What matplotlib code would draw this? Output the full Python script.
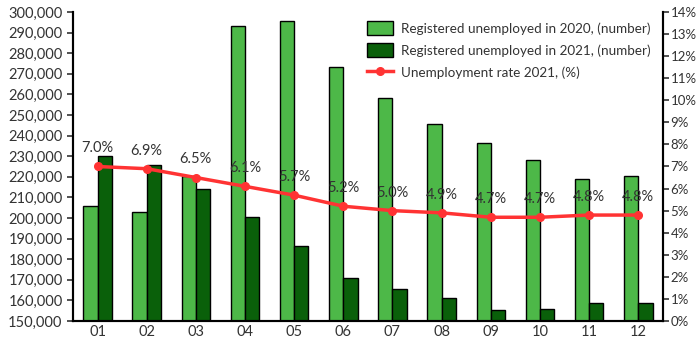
import matplotlib.pyplot as plt
import numpy as np
from matplotlib.ticker import FuncFormatter

months = ["01", "02", "03", "04", "05", "06", "07", "08", "09", "10", "11", "12"]
unemployed_2020 = [205800, 202900, 220400, 293200, 295600, 273300,
                   258300, 245600, 236400, 228200, 219100, 220500]
unemployed_2021 = [230100, 225700, 214100, 200600, 186600, 171000,
                   165700, 161200, 155200, 155700, 158900, 158900]
rate_2021 = [7.0, 6.9, 6.5, 6.1, 5.7, 5.2, 5.0, 4.9, 4.7, 4.7, 4.8, 4.8]

plt.rcParams['font.family'] = ['Lato', 'DejaVu Sans']
text_color = '#333333'

fig = plt.figure(figsize=(6.97, 3.38), dpi=100)
ax = fig.add_axes([0.1047, 0.0503, 0.8463, 0.9142])
ax2 = ax.twinx()

x = np.arange(len(months))
w = 0.29
b1 = ax.bar(x - w / 2, unemployed_2020, w, color='#4db848', edgecolor='black',
            linewidth=1, label='Registered unemployed in 2020, (number)')
b2 = ax.bar(x + w / 2, unemployed_2021, w, color='#0a600a', edgecolor='black',
            linewidth=1, label='Registered unemployed in 2021, (number)')

ax.set_ylim(150000, 300000)
ax.set_yticks(range(150000, 300001, 10000))
ax.yaxis.set_major_formatter(FuncFormatter(lambda v, p: f"{int(v):,}"))
ax.set_xlim(-0.5, len(months) - 0.5)
ax.set_xticks(x)
ax.set_xticklabels(months)
ax.tick_params(axis='x', length=0, pad=3, labelsize=10.5, colors=text_color)
ax.tick_params(axis='y', length=4, width=1.2, labelsize=10.5, colors=text_color)

line, = ax2.plot(x, rate_2021, color='#ff3333', linewidth=2.5, marker='o',
                 markersize=5.5, label='Unemployment rate 2021, (%)')
for xi, r in zip(x, rate_2021):
    ax2.annotate(f"{r:.1f}%", (xi, r), xytext=(0, 8), textcoords='offset points',
                 ha='center', va='bottom', fontsize=10.5, color=text_color)

ax2.set_ylim(0, 14)
ax2.set_yticks(range(0, 15))
ax2.yaxis.set_major_formatter(FuncFormatter(lambda v, p: f"{int(v)}%"))
ax2.tick_params(axis='y', length=4, width=1.2, labelsize=9.5, colors=text_color, pad=1.5)

for a in (ax, ax2):
    a.spines['top'].set_visible(False)
    for s in ('left', 'right', 'bottom'):
        a.spines[s].set_linewidth(1.5)

ax.legend(handles=[b1, b2, line], loc='upper right', bbox_to_anchor=(0.995, 1.0),
          frameon=False, fontsize=9.7, labelcolor=text_color, handlelength=1.9,
          handleheight=1.2, borderaxespad=0.3, labelspacing=0.6, handletextpad=0.6)

fig.savefig('out.png', dpi=100)
